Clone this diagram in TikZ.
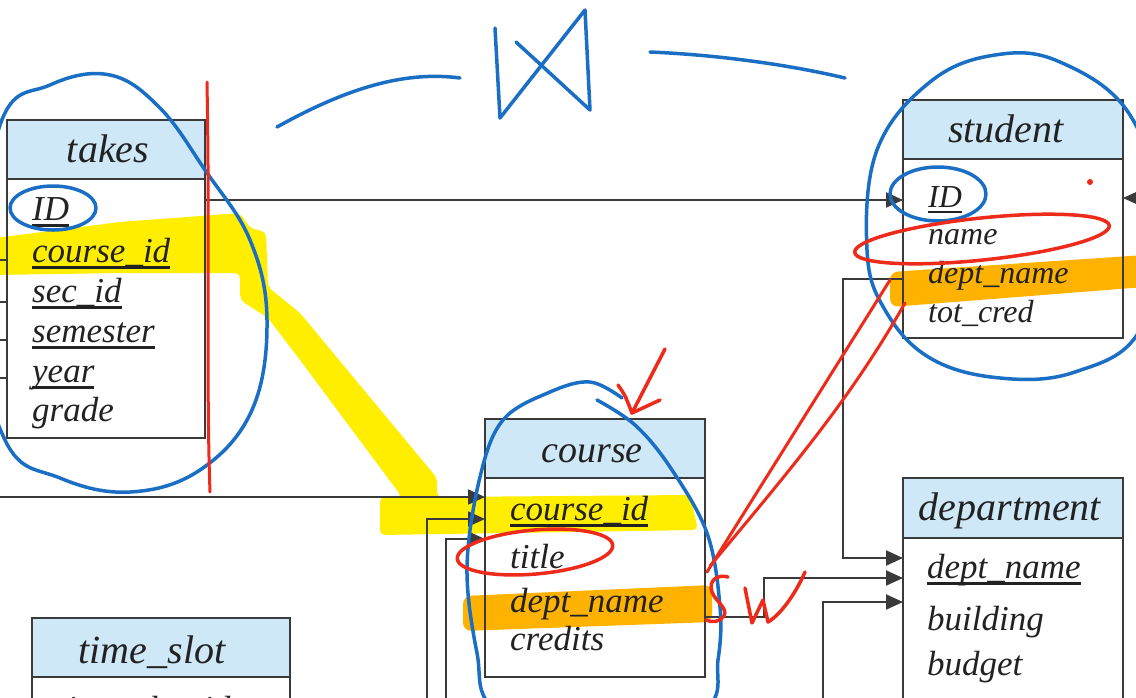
\documentclass[tikz,border=0pt]{standalone}
\usepackage{fontspec}
\setmainfont{Liberation Serif}
\usetikzlibrary{arrows.meta}
\definecolor{boxc}{HTML}{3A3A3A}
\definecolor{hdrc}{HTML}{CFE8F7}
\definecolor{txtc}{HTML}{222222}
\definecolor{inkblue}{HTML}{1A6FC4}
\definecolor{inkred}{HTML}{EE2A1B}
\definecolor{hlyellow}{HTML}{FFEE00}
\definecolor{hlorange}{HTML}{FFB300}
\newcommand\ulw[1]{\setbox0\hbox{#1}\rlap{\rule[-0.19em]{\wd0}{0.07em}}\box0}
\tikzset{
  hdr/.style={draw=boxc, fill=hdrc, line width=2.4pt, inner sep=0, outer sep=0, anchor=north west},
  bodyb/.style={draw=boxc, line width=2.4pt, inner sep=0, outer sep=0, anchor=north west},
  htext/.style={font=\fontsize{40}{48}\selectfont\itshape, text=txtc, anchor=base, inner sep=0},
  rowt/.style={font=\fontsize{35}{40}\selectfont\itshape, text=txtc, anchor=base west, inner sep=0},
  rows/.style={font=\fontsize{32}{38}\selectfont\itshape, text=txtc, anchor=base west, inner sep=0},
  conn/.style={draw=boxc, line width=2pt},
  arr/.style={conn, -{Triangle[length=17pt,width=15pt]}},
  ink/.style={line width=3.5pt, line cap=round, line join=round},
  blueink/.style={ink, draw=inkblue},
  redink/.style={ink, draw=inkred},
}
\begin{document}
\begin{tikzpicture}[x=1pt,y=-1pt]
\useasboundingbox (0,0) rectangle (1136,697);
\clip (0,0) rectangle (1136,697);
\fill[white] (0,0) rectangle (1136,697);

% highlights
\fill[hlyellow, rounded corners=5pt] (-5,238) -- (120,222) -- (240,213) -- (250,228) -- (266,232) -- (268,287) -- (300,313) -- (437,478) -- (437,497) -- (690,495) -- (698,530) -- (380,535) -- (380,497) -- (402,497) -- (300,360) -- (268,318) -- (240,300) -- (240,273) -- (120,273) -- (-5,275) -- cycle;
\fill[hlorange, rounded corners=8pt] (890,272) -- (1145,255) -- (1145,287) -- (890,307) -- cycle;
\fill[hlorange, rounded corners=8pt] (463,596) -- (712,585) -- (712,622) -- (463,631) -- cycle;

% tables
\node[hdr, minimum width=198, minimum height=59] (takesH) at (7,120) {};
\node[bodyb, minimum width=198, minimum height=259] (takesB) at (7,179) {};
\node[hdr, minimum width=220, minimum height=59] (studentH) at (903,100) {};
\node[bodyb, minimum width=220, minimum height=179] (studentB) at (903,159) {};
\node[hdr, minimum width=220, minimum height=59] (courseH) at (485,419) {};
\node[bodyb, minimum width=220, minimum height=199] (courseB) at (485,478) {};
\node[hdr, minimum width=220, minimum height=60] (deptH) at (903,478) {};
\node[bodyb, minimum width=220, minimum height=220] (deptB) at (903,538) {};
\node[hdr, minimum width=258, minimum height=59] (timeH) at (32,618) {};
\node[bodyb, minimum width=258, minimum height=120] (timeB) at (32,677) {};

% header texts
\node[htext] (takesT) at (108,162) {takes};
\node[htext] (studentT) at (1006,142) {student};
\node[htext, font=\fontsize{38}{46}\selectfont\itshape] (courseT) at (592,462) {course};
\node[htext] (deptT) at (1010,520) {department};
\node[htext] (timeT) at (152,663) {time\_slot};

% takes rows
\node[rowt] (tk1) at (32,220) {\ulw{ID}};
\node[rowt] (tk2) at (32,262) {\ulw{course\_id}};
\node[rowt] (tk3) at (32,302) {\ulw{sec\_id}};
\node[rowt] (tk4) at (32,342) {\ulw{semester}};
\node[rowt] (tk5) at (32,382) {\ulw{year}};
\node[rowt] (tk6) at (32,421) {grade};
% student rows
\node[rows] (st1) at (928,207) {\ulw{ID}};
\node[rows] (st2) at (928,244) {name};
\node[rows] (st3) at (928,283) {dept\_name};
\node[rows] (st4) at (928,322) {tot\_cred};
% course rows
\node[rowt] (co1) at (510,520) {\ulw{course\_id}};
\node[rowt] (co2) at (510,568) {title};
\node[rowt] (co3) at (510,612) {dept\_name};
\node[rowt] (co4) at (510,650) {credits};
% department rows
\node[rowt] (de1) at (927,578) {\ulw{dept\_name}};
\node[rowt] (de2) at (927,630) {building};
\node[rowt] (de3) at (927,675) {budget};
% time_slot row (cut off at the lower edge, as in the reference)
\node[rowt] (ts1) at (57,720) {\ulw{time\_slot\_id}};

% connector coordinates
\coordinate (tl1) at (-5,260);
\coordinate (tl2) at (-5,302);
\coordinate (tl3) at (-5,340);
\coordinate (tl4) at (-5,378);
\coordinate (idy) at (0,200);
\coordinate (offR) at (1150,198);
\coordinate (offL) at (-5,497);
\coordinate (v1) at (427,720);
\coordinate (v2) at (446,720);
\coordinate (cin2) at (0,519);
\coordinate (cin3) at (0,539);
\coordinate (sdep) at (0,279);
\coordinate (cdep) at (0,617);
\coordinate (d1) at (0,558);
\coordinate (d2) at (0,578);
\coordinate (d3) at (0,602);
\coordinate (v3) at (823,720);

\draw[conn] (tl1) -- (takesB.west |- tl1);
\draw[conn] (tl2) -- (takesB.west |- tl2);
\draw[conn] (tl3) -- (takesB.west |- tl3);
\draw[conn] (tl4) -- (takesB.west |- tl4);
\draw[arr] (takesB.east |- idy) -- (studentB.west |- idy);
\draw[arr] (offR) -- (studentB.east |- offR);
\draw[arr] (offL) -- (courseB.west |- offL);
\draw[arr] (v1) |- (courseB.west |- cin2);
\draw[arr] (v2) |- (courseB.west |- cin3);
\draw[arr] (studentB.west |- sdep) -- ++(-60,0) |- (deptB.west |- d1);
\draw[arr] (courseB.east |- cdep) -- ++(59,0) |- (deptB.west |- d2);
\draw[arr] (v3) |- (deptB.west |- d3);

% blue ink
\draw[blueink] plot[smooth cycle, tension=0.65] coordinates {(0,125) (50,85) (110,75) (160,108) (205,170) (250,240) (267,320) (252,410) (200,470) (130,492) (60,478) (5,440) (-25,300)};
\draw[blueink] plot[smooth cycle, tension=0.65] coordinates {(867,250) (877,150) (930,82) (995,55) (1060,62) (1130,115) (1160,220) (1140,330) (1075,372) (1000,378) (930,358) (885,310)};
\draw[blueink] plot[smooth, tension=0.6] coordinates {(622,398) (590,382) (550,392) (503,420) (480,477) (467,567) (477,653) (495,710) (600,760) (705,710) (718,660) (720,607) (707,533) (670,467) (635,425) (597,400)};
\draw[blueink] (53,208) ellipse [x radius=43, y radius=22];
\draw[blueink] (938,194) ellipse [x radius=48, y radius=27];
\draw[blueink] (277,127) .. controls (340,92) and (400,70) .. (460,78);
\draw[blueink] (495,28) -- (500,118) -- (585,10) -- (590,110) -- (516,42);
\draw[blueink] (650,52) .. controls (720,55) and (790,65) .. (845,78);

% red ink
\draw[redink, rotate around={6:(982,239)}] (982,239) ellipse [x radius=128, y radius=21];
\draw[redink, rotate around={5:(535,552)}] (535,552) ellipse [x radius=78, y radius=22];
\draw[redink, line width=3pt] (207,82) .. controls (210,250) and (206,380) .. (210,492);
\draw[redink, line width=3pt] (707,572) -- (890,280);
\draw[redink, line width=3pt] (710,566) .. controls (790,470) and (850,400) .. (905,303);
\draw[redink] (728,577) .. controls (718,574) and (708,580) .. (712,592) .. controls (716,602) and (728,608) .. (724,616) .. controls (720,622) and (712,623) .. (706,620);
\draw[redink] (745,588) -- (752,623) -- (763,600) -- (768,622) .. controls (780,615) and (795,595) .. (805,572);
\draw[redink] (665,349) -- (632,413);
\draw[redink] (618,385) .. controls (625,395) .. (632,413) -- (660,400);
\fill[inkred] (1090,182) circle (3);
\end{tikzpicture}
\end{document}
